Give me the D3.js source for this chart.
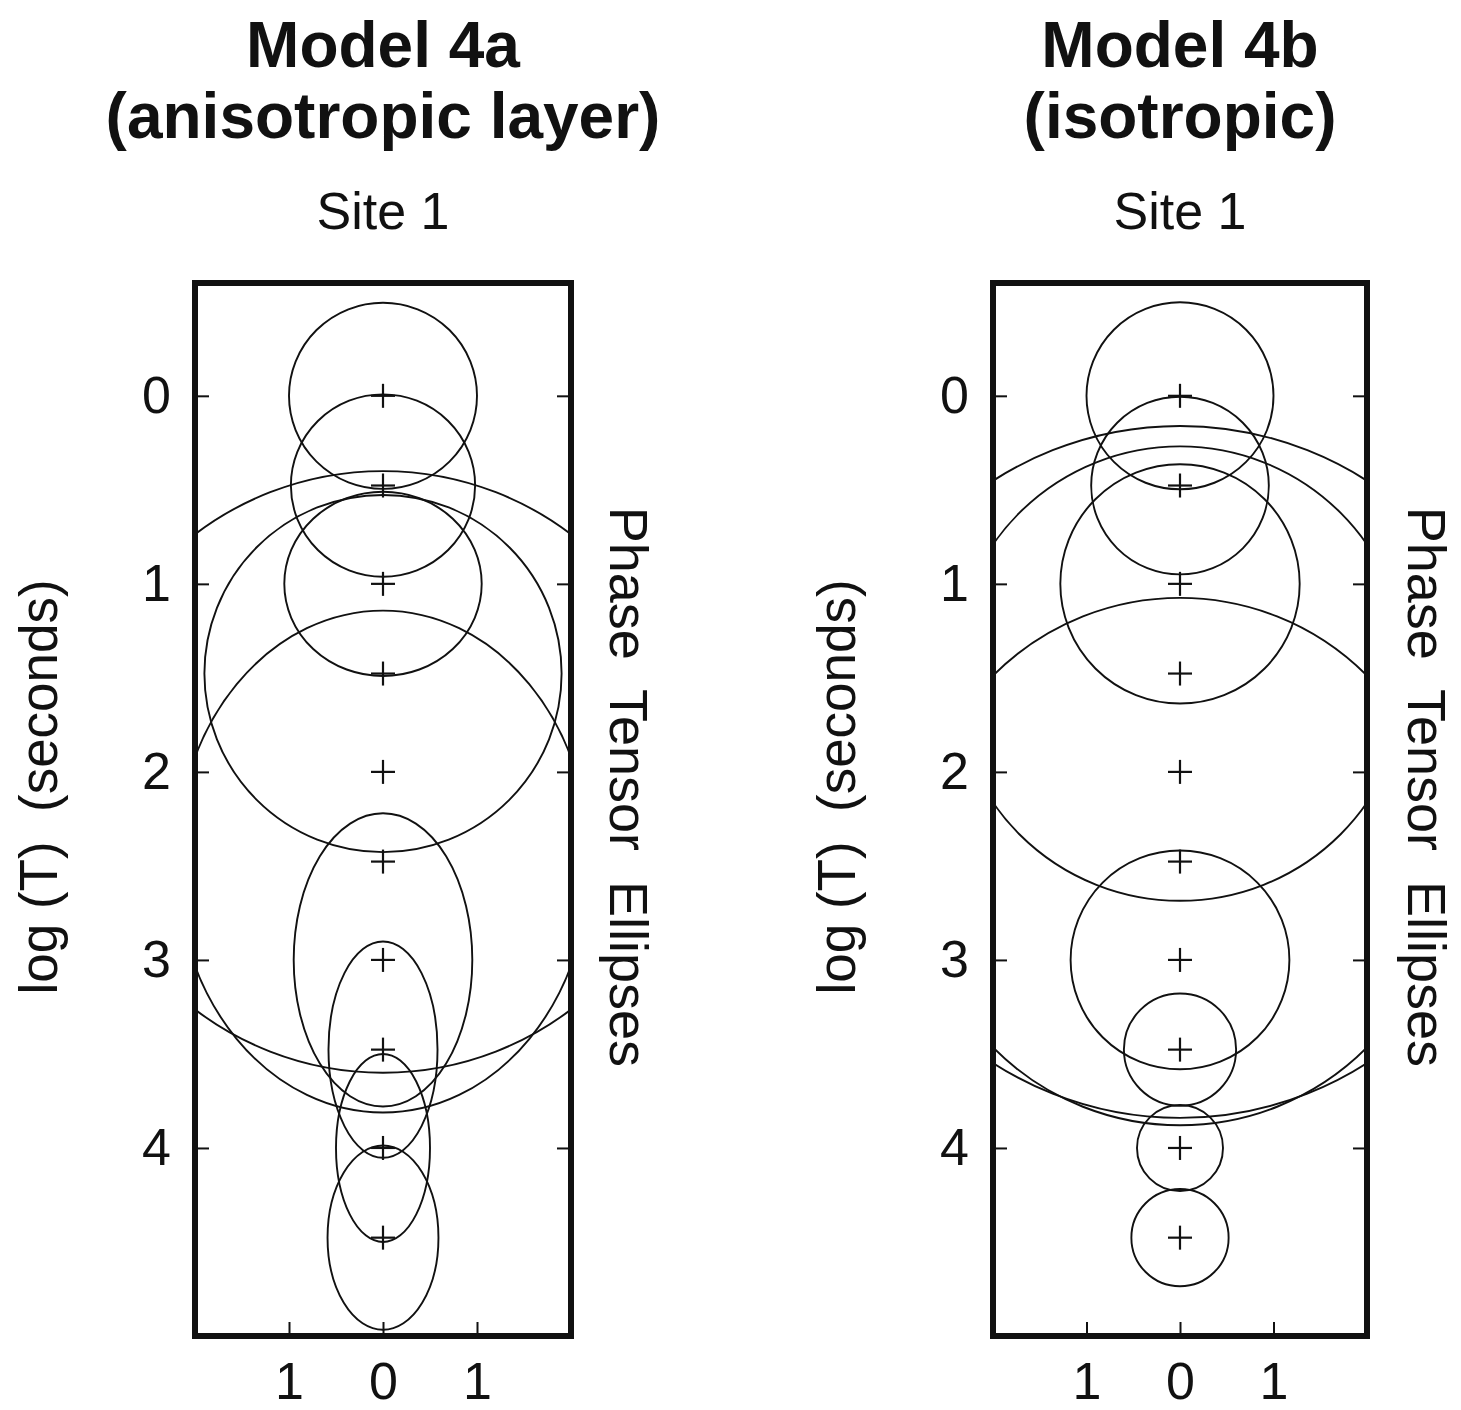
<!DOCTYPE html>
<html>
<head>
<meta charset="utf-8">
<script src="https://cdn.jsdelivr.net/npm/d3@7"></script>
<style>
  body { margin: 0; background: #fff; }
  text { font-family: "Liberation Sans", Arial, sans-serif; fill: #111; }
</style>
</head>
<body>
<svg id="chart" width="1461" height="1410"></svg>
<script>
// log10 of period (1, 3, 10, 30 ... 30000 s)
const periods = [0, 0.477, 1, 1.477, 2, 2.477, 3, 3.477, 4, 4.477];

// semi-axes of the phase tensor ellipses, in units of the horizontal axis
// model 4a (anisotropic layer): horizontal and vertical
const axis4aH = [1.00, 0.98, 1.05, 1.90, 3.26, 2.20, 0.95, 0.58, 0.50, 0.59];
const axis4aV = [0.99, 0.97, 0.98, 1.90, 3.20, 2.67, 1.56, 1.15, 1.00, 0.98];
// model 4b (isotropic): circles
const radius4b = [1.00, 0.95, 1.28, 2.43, 3.70, 2.82, 1.17, 0.60, 0.46, 0.52];

const yTicks = [0, 1, 2, 3, 4];
const xTicks = [-1, 0, 1];

const panels = [
  { id: "a", title1: "Model 4a", title2: "(anisotropic layer)", site: "Site 1",
    left: 195, right: 571, h: axis4aH, v: axis4aV, sideOff: 39 },
  { id: "b", title1: "Model 4b", title2: "(isotropic)", site: "Site 1",
    left: 993, right: 1367, h: radius4b, v: radius4b, sideOff: 41 }
];

const svg = d3.select("#chart");
svg.append("rect").attr("width", 1461).attr("height", 1410).attr("fill", "#fff");

const y = d3.scaleLinear().domain([-0.6, 5.0]).range([283, 1336]);

panels.forEach(p => {
  const x = d3.scaleLinear().domain([-2, 2]).range([p.left, p.right]);
  const kx = x(1) - x(0);
  const cx = x(0);
  const top = y(-0.6), bottom = y(5.0);

  // titles
  const t = svg.append("g").attr("text-anchor", "middle");
  t.append("text").attr("x", cx).attr("y", 67)
    .style("font-size", "64px").style("font-weight", "bold").text(p.title1);
  t.append("text").attr("x", cx).attr("y", 138)
    .style("font-size", "64px").style("font-weight", "bold").text(p.title2);
  t.append("text").attr("x", cx).attr("y", 229)
    .style("font-size", "52px").text(p.site);

  // clip for the ellipses
  svg.append("clipPath").attr("id", "clip" + p.id)
    .append("rect").attr("x", p.left).attr("y", top)
    .attr("width", p.right - p.left).attr("height", bottom - top);

  const data = periods.map((d, i) => ({ t: d, h: p.h[i], v: p.v[i] }));

  const g = svg.append("g").attr("clip-path", `url(#clip${p.id})`);
  g.selectAll("ellipse").data(data).join("ellipse")
    .attr("cx", cx)
    .attr("cy", d => y(d.t))
    .attr("rx", d => d.h * kx)
    .attr("ry", d => d.v * kx)
    .attr("fill", "none")
    .attr("stroke", "#111")
    .attr("stroke-width", 1.9);

  // crosses at each period
  const cs = 12;
  const crosses = svg.append("g").attr("stroke", "#111").attr("stroke-width", 2.2);
  data.forEach(d => {
    crosses.append("line").attr("x1", cx - cs).attr("x2", cx + cs)
      .attr("y1", y(d.t)).attr("y2", y(d.t));
    crosses.append("line").attr("x1", cx).attr("x2", cx)
      .attr("y1", y(d.t) - cs).attr("y2", y(d.t) + cs);
  });

  // axes with inward ticks
  const leftAxis = svg.append("g").attr("transform", `translate(${p.left},0)`)
    .call(d3.axisLeft(y).tickValues(yTicks).tickSize(-14).tickPadding(24).tickFormat(d3.format("d")));
  const rightAxis = svg.append("g").attr("transform", `translate(${p.right},0)`)
    .call(d3.axisRight(y).tickValues(yTicks).tickSize(-14).tickFormat(""));
  const bottomAxis = svg.append("g").attr("transform", `translate(0,${bottom})`)
    .call(d3.axisBottom(x).tickValues(xTicks).tickSize(-14).tickPadding(26).tickFormat(d => Math.abs(d)));

  [leftAxis, rightAxis, bottomAxis].forEach(a => {
    a.select(".domain").remove();
    a.selectAll("line").attr("stroke", "#111").attr("stroke-width", 2);
    a.selectAll("text").style("font-size", "52px").attr("fill", "#111")
      .style("font-family", "'Liberation Sans', Arial, sans-serif");
  });

  // frame
  svg.append("rect").attr("x", p.left).attr("y", top)
    .attr("width", p.right - p.left).attr("height", bottom - top)
    .attr("fill", "none").attr("stroke", "#111").attr("stroke-width", 6);

  // axis titles
  svg.append("text")
    .attr("transform", `translate(${p.left - 138},${y(2.08)}) rotate(-90)`)
    .attr("text-anchor", "middle")
    .style("font-size", "53px")
    .style("white-space", "pre")
    .text("log (T)  (seconds)");

  svg.append("text")
    .attr("transform", `translate(${p.right + p.sideOff},${y(2.08)}) rotate(90)`)
    .attr("text-anchor", "middle")
    .style("font-size", "54px")
    .style("white-space", "pre")
    .text("Phase  Tensor  Ellipses");
});
</script>
</body>
</html>
